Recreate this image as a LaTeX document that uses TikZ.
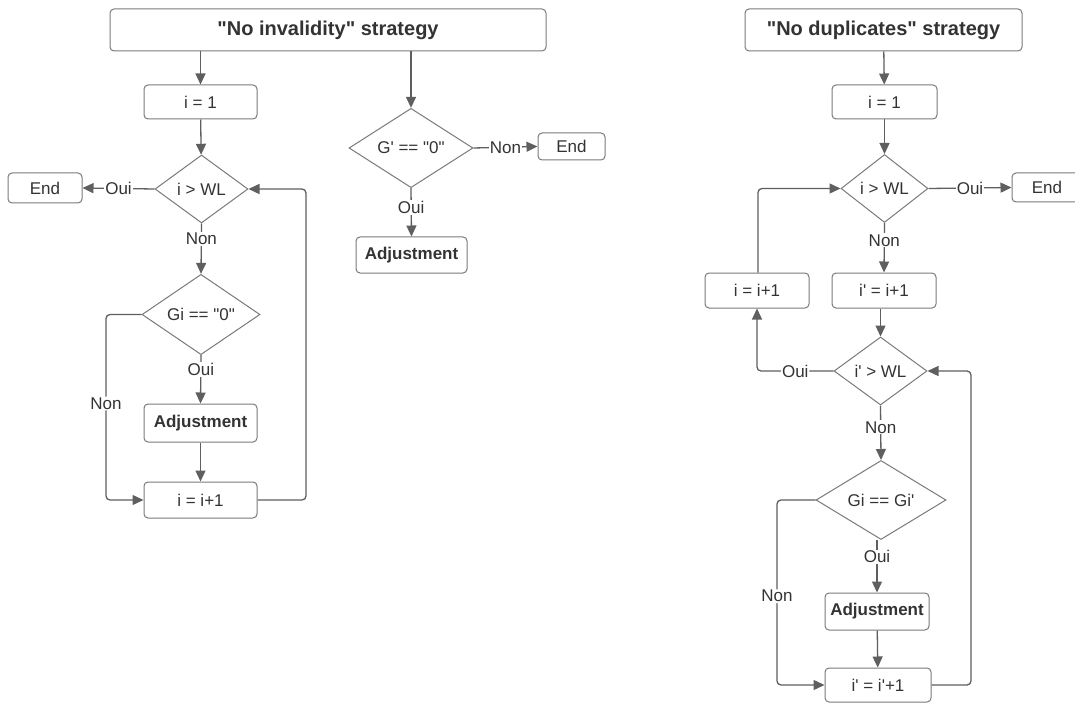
\documentclass[tikz,border=0pt]{standalone}
\usepackage{fontspec}
\setmainfont{Liberation Sans}[Ligatures=TeXOff]
\usetikzlibrary{shapes.geometric,arrows.meta}
\definecolor{linec}{HTML}{5F5F5F}
\definecolor{boxc}{HTML}{7A7A7A}
\definecolor{txtc}{HTML}{333333}
\tikzset{
  pbox/.style={draw=boxc, line width=1pt, rounded corners=4pt, fill=white, text=txtc,
    font=\fontsize{17}{19}\selectfont, inner sep=0pt},
  tbox/.style={pbox, font=\fontsize{20}{23}\selectfont\bfseries},
  abox/.style={pbox, font=\fontsize{17}{19}\selectfont\bfseries},
  dec/.style={draw=boxc, line width=1pt, diamond, inner sep=0pt, fill=white, text=txtc,
    font=\fontsize{17}{19}\selectfont},
  conn/.style={draw=linec, line width=1.3pt, -{Triangle[length=11pt,width=10pt]}},
  lbl/.style={fill=white, text=txtc, inner sep=1pt, font=\fontsize{17}{19}\selectfont},
}
\begin{document}
\begin{tikzpicture}[x=1pt,y=-1pt]
\path[use as bounding box, fill=white] (0,0) rectangle (1075,703);

% ---------- Left: "No invalidity" strategy ----------
\node[tbox, minimum width=436, minimum height=42] (t1) at (328,30) {"No invalidity" strategy};
\node[pbox, minimum width=113, minimum height=34] (a1) at (200.5,102) {i = 1};
\node[dec, minimum width=93, minimum height=68] (a2) at (201.5,189) {i > WL};
\node[pbox, minimum width=74, minimum height=30] (aend) at (45,188) {End};
\node[dec, minimum width=118, minimum height=69] (a3) at (201,314.5) {Gi == "0"};
\node[abox, minimum width=113, minimum height=38] (a4) at (200.5,423) {Adjustment};
\node[pbox, minimum width=113, minimum height=36] (a5) at (200.5,500) {i = i+1};

\node[dec, minimum width=124, minimum height=60] (b1) at (411,148) {G' == "0"};
\node[pbox, minimum width=67, minimum height=27] (bend) at (571.5,146.5) {End};
\node[abox, minimum width=111, minimum height=36] (b2) at (411.5,255) {Adjustment};

\draw[conn] (t1.south -| a1) -- (a1);
\draw[conn] (a1) -- (a2);
\draw[conn] (a2.west) -- node[lbl]{Oui} (aend.east);
\draw[conn] (a2.south) -- node[lbl, pos=0.3]{Non} (a3.north);
\draw[conn] (a3.south) -- node[lbl, pos=0.3]{Oui} (a4.north);
\draw[conn] (a4) -- (a5);
\coordinate (nl) at (106,314.5);
\draw[conn, rounded corners=4pt] (a3.west) -- (nl) -- node[lbl, pos=0.48]{Non} (nl |- a5) -- (a5.west);
\coordinate (rl) at (306,500);
\draw[conn, rounded corners=4pt] (a5.east) -- (rl) -- (rl |- a2) -- (a2.east);

\draw[conn] (t1.south -| b1) -- (b1.north);
\draw[conn] (b1.east) -- node[lbl]{Non} (bend.west);
\draw[conn] (b1.south) -- node[lbl, pos=0.4]{Oui} (b2.north);

% ---------- Right: "No duplicates" strategy ----------
\node[tbox, minimum width=277, minimum height=42] (t2) at (883.5,30) {"No duplicates" strategy};
\node[pbox, minimum width=105, minimum height=34] (c1) at (884.5,102) {i = 1};
\node[dec, minimum width=87, minimum height=68] (c2) at (884.5,188.5) {i > WL};
\node[pbox, minimum width=70, minimum height=29] (cend) at (1047,187.5) {End};
\node[pbox, minimum width=104, minimum height=35] (c3) at (757,290.5) {i = i+1};
\node[pbox, minimum width=104, minimum height=35] (c4) at (884,290.5) {i' = i+1};
\node[dec, minimum width=93, minimum height=68] (c5) at (880.5,371) {i' > WL};
\node[dec, minimum width=130, minimum height=68] (c6) at (881,500) {Gi == Gi'};
\node[abox, minimum width=104, minimum height=37] (c7) at (877,611.5) {Adjustment};
\node[pbox, minimum width=106, minimum height=34] (c8) at (878,685) {i' = i'+1};

\draw[conn] (t2) -- (c1);
\draw[conn] (c1) -- (c2);
\draw[conn] (c2.east) -- node[lbl]{Oui} (cend.west);
\draw[conn] (c2.south) -- node[lbl, pos=0.35]{Non} (c4.north);
\draw[conn] (c4.south -| c5) -- (c5.north);
\coordinate (ol) at (757,371);
\draw[conn, rounded corners=4pt] (c5.west) -- node[lbl, pos=0.5]{Oui} (ol) -- (c3.south);
\coordinate (ul) at (758,188.5);
\draw[conn, rounded corners=4pt] (c3.north -| ul) -- (ul) -- (c2.west);
\draw[conn] (c5.south) -- node[lbl, pos=0.4]{Non} (c6.north);
\draw[conn] (c6.south -| c7) -- node[lbl, pos=0.32]{Oui} (c7.north);
\draw[conn] (c7) -- (c8);
\coordinate (nr) at (777,500);
\draw[conn, rounded corners=4pt] (c6.west) -- (nr) -- node[lbl, pos=0.52]{Non} (nr |- c8) -- (c8.west);
\coordinate (rr) at (971,685);
\draw[conn, rounded corners=4pt] (c8.east) -- (rr) -- (rr |- c5) -- (c5.east);
\end{tikzpicture}
\end{document}
